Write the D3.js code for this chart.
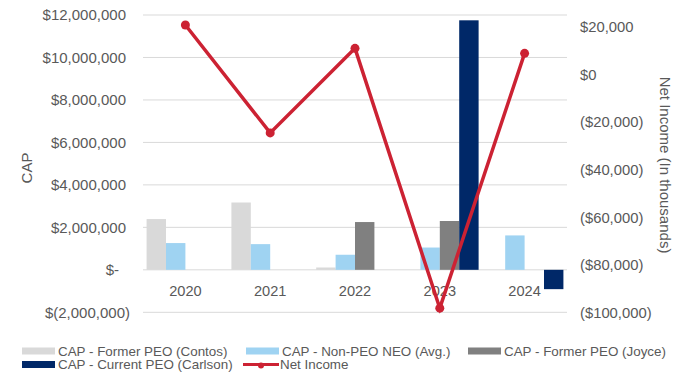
<!DOCTYPE html>
<html><head><meta charset="utf-8">
<script src="https://cdn.jsdelivr.net/npm/d3@7"></script>
<style>body{margin:0;background:#fff}svg{display:block}text{font-family:"Liberation Sans",Arial,sans-serif}</style>
</head><body><svg id="c" width="697" height="389"></svg>
<script>
const years = ["2020","2021","2022","2023","2024"];
const seriesNames = ["CAP - Former PEO (Contos)","CAP - Non-PEO NEO (Avg.)","CAP - Former PEO (Joyce)","CAP - Current PEO (Carlson)"];
const contos  = [2390000, 3170000, 110000, null, null];
const nonPeo  = [1260000, 1210000, 710000, 1050000, 1620000];
const joyce   = [null, null, 2250000, 2300000, null];
const carlson = [null, null, null, 11750000, -910000];
const netIncome = [20800, -24500, 11000, -98100, 8900];
const leftTicks = [-2000000, 0, 2000000, 4000000, 6000000, 8000000, 10000000, 12000000];
const leftTickLabels = ["$(2,000,000)","$-","$2,000,000","$4,000,000","$6,000,000","$8,000,000","$10,000,000","$12,000,000"];
const rightTicks = [-100000, -80000, -60000, -40000, -20000, 0, 20000];
const rightTickLabels = ["($100,000)","($80,000)","($60,000)","($40,000)","($20,000)","$0","$20,000"];
const colors = ["#d9d9d9","#9fd3f2","#808080","#002868"];
const lineColor = "#cc2233";

const svg = d3.select("#c");
const L = 143, R = 567, T = 15, B = 312.3;
const x0 = d3.scaleBand().domain(years).range([L, R]).padding(0);
const x1 = d3.scaleBand().domain(seriesNames).range([0, x0.bandwidth()]).paddingInner(0).paddingOuter(0.185);
const y = d3.scaleLinear().domain([-2000000, 12000000]).range([B, T]);
const y2 = d3.scaleLinear().domain([-100000, 25000]).range([312.7, 15]);
const txt = "#595959";

// gridlines
svg.append("g").selectAll("line").data(leftTicks).join("line")
  .attr("x1", L).attr("x2", R).attr("y1", d => y(d)).attr("y2", d => y(d))
  .attr("stroke", "#d9d9d9").attr("stroke-width", 1);

// left axis labels
const yl = d3.axisLeft(y).tickValues(leftTicks).tickSize(0).tickFormat((d,i) => leftTickLabels[i]);
const gl = svg.append("g").attr("transform", `translate(130,0)`).call(yl);
gl.select(".domain").remove();
gl.selectAll("text").attr("fill", txt).style("font-size", "15px").attr("x", 0)
  .attr("dx", (d,i) => leftTickLabels[i].endsWith(")") ? 0 : (d === 0 ? -11 : -4));

// right axis labels
const yr = d3.axisRight(y2).tickValues(rightTicks).tickSize(0).tickFormat((d,i) => rightTickLabels[i]);
const gr = svg.append("g").attr("transform", `translate(580,0)`).call(yr);
gr.select(".domain").remove();
gr.selectAll("text").attr("fill", txt).style("font-size", "14.8px").attr("x", 0);

// bars
const all = [contos, nonPeo, joyce, carlson];
const barData = [];
all.forEach((arr, s) => arr.forEach((v, i) => { if (v !== null) barData.push({s, i, v}); }));
svg.append("g").selectAll("rect").data(barData).join("rect")
  .attr("x", d => x0(years[d.i]) + x1(seriesNames[d.s]))
  .attr("width", x1.bandwidth())
  .attr("y", d => y(Math.max(0, d.v)))
  .attr("height", d => Math.abs(y(d.v) - y(0)))
  .attr("fill", d => colors[d.s]);

// x labels
svg.append("g").selectAll("text").data(years).join("text")
  .attr("x", d => x0(d) + x0.bandwidth()/2).attr("y", 296)
  .attr("text-anchor", "middle").attr("fill", txt).style("font-size", "14.6px").text(d => d);

// line
const line = d3.line().x((d,i) => x0(years[i]) + x0.bandwidth()/2).y(d => y2(d));
svg.append("path").datum(netIncome).attr("d", line).attr("fill", "none")
  .attr("stroke", lineColor).attr("stroke-width", 3.5).attr("stroke-linejoin", "miter");
svg.append("g").selectAll("circle").data(netIncome).join("circle")
  .attr("cx", (d,i) => x0(years[i]) + x0.bandwidth()/2).attr("cy", d => y2(d)).attr("r", 4.5)
  .attr("fill", lineColor);

// axis titles
svg.append("text").attr("transform", "translate(32,168) rotate(-90)").attr("text-anchor", "middle")
  .attr("fill", txt).style("font-size", "15px").text("CAP");
svg.append("text").attr("transform", "translate(660,165) rotate(90)").attr("text-anchor", "middle")
  .attr("fill", txt).style("font-size", "15px").text("Net Income (In thousands)");

// legend
const legend = [
  {t: seriesNames[0], c: colors[0], x: 22, y: 351, type: "rect"},
  {t: seriesNames[1], c: colors[1], x: 246, y: 351, type: "rect"},
  {t: seriesNames[2], c: colors[2], x: 468, y: 351, type: "rect"},
  {t: seriesNames[3], c: colors[3], x: 22, y: 364.5, type: "rect"},
  {t: "Net Income", c: lineColor, x: 243, y: 364.5, type: "line"}
];
const lg = svg.append("g").selectAll("g").data(legend).join("g").attr("transform", d => `translate(${d.x},${d.y})`);
lg.filter(d => d.type === "rect").append("rect").attr("x", 0).attr("y", -3.5).attr("width", 33).attr("height", 7).attr("fill", d => d.c);
lg.filter(d => d.type === "line").append("line").attr("x1", 0).attr("x2", 36).attr("y1", 0).attr("y2", 0).attr("stroke", d => d.c).attr("stroke-width", 3);
lg.filter(d => d.type === "line").append("circle").attr("cx", 18).attr("cy", 1).attr("r", 3).attr("fill", d => d.c);
lg.append("text").attr("x", d => d.type === "line" ? 37 : 36).attr("y", 0).attr("dy", "0.35em")
  .attr("fill", txt).style("font-size", "13.4px").text(d => d.t);
</script></body></html>
